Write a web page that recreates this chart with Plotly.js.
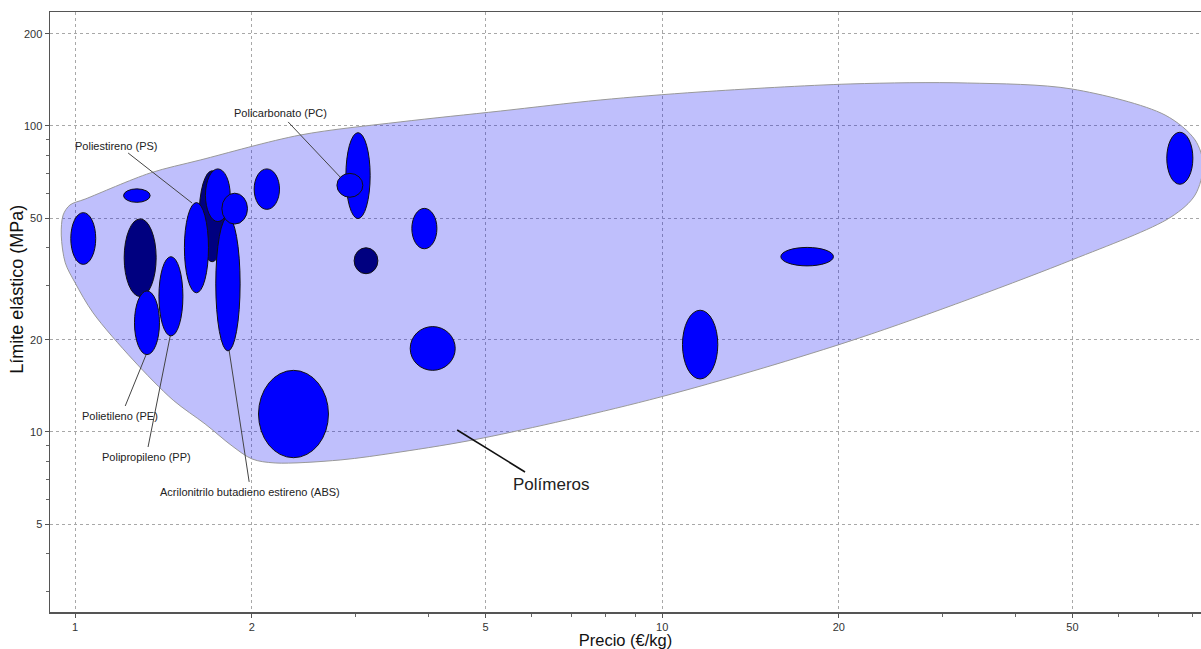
<!DOCTYPE html>
<html>
<head>
<meta charset="utf-8">
<script src="https://cdn.plot.ly/plotly-3.0.1.min.js"></script>
<style>html,body{margin:0;padding:0;background:#fff;}#chart{width:1201px;height:649px;}</style>
</head>
<body>
<div id="chart"></div>
<script>
// Material bubbles: price range (€/kg) and yield strength range (MPa)
const priceLo    = [1.212, 1.626, 2.987, 0.983, 1.209, 1.262, 1.389, 1.535, 1.667, 1.736, 1.778, 2.018, 2.892, 2.792, 3.746, 2.053, 3.722, 15.93, 10.83, 72.4];
const priceHi    = [1.374, 1.801, 3.279, 1.084, 1.342, 1.392, 1.526, 1.687, 1.837, 1.910, 1.966, 2.229, 3.181, 3.091, 4.133, 2.701, 4.441, 19.58, 12.44, 80.2];
const strengthLo = [27.7, 36.0, 32.9, 35.3, 56.3, 17.9, 20.6, 28.5, 48.7, 18.4, 47.8, 53.4, 49.8, 58.5, 39.7, 8.24, 15.9, 34.9, 14.9, 64.5];
const strengthHi = [49.7, 71.4, 40.0, 52.1, 62.3, 28.9, 37.4, 56.2, 72.4, 50.5, 60.3, 72.4, 95.1, 70.0, 53.8, 15.9, 22.1, 40.1, 25.0, 95.4];
const shade      = ['dark','dark','dark','light','light','light','light','light','light','light','light','light','light','light','light','light','light','light','light','light'];

// Polymer family envelope (price, strength)
const envPrice    = [0.947, 0.954, 0.980, 1.04, 1.342, 1.633, 2.417, 3.578, 5.30, 7.84, 11.6, 20.9, 33.1, 49.9, 71.9, 80.9, 83.5, 80.9, 73.6, 49.9, 21.7, 9.92, 4.96, 3.578, 2.828, 2.191, 2.002, 1.851, 1.665, 1.469, 1.255, 1.073, 1.0, 0.962, 0.947];
const envStrength = [44.0, 51.2, 55.2, 57.7, 70.2, 77.4, 93.4, 103.1, 111.9, 121.6, 129.2, 137.2, 138.2, 132.1, 108.6, 90.0, 74.6, 59.5, 50.4, 36.5, 20.3, 13.0, 9.56, 8.60, 8.10, 7.92, 8.16, 9.00, 10.62, 12.7, 17.2, 24.5, 30.7, 35.7, 44.0];

// Labels and leader lines
const labelText     = ['Poliestireno (PS)', 'Policarbonato (PC)', 'Polietileno (PE)', 'Polipropileno (PP)', 'Acrilonitrilo butadieno estireno (ABS)', 'Polímeros'];
const labelPrice    = [1.175, 2.235, 1.193, 1.321, 1.987, 6.47];
const labelStrength = [86.0, 110.3, 11.28, 8.286, 6.37, 6.71];
const leadFromPrice    = [1.231, 2.306, 1.217, 1.331, 1.979, 5.84];
const leadFromStrength = [81.6, 103.1, 12.16, 8.93, 6.87, 7.40];
const leadToPrice      = [1.582, 2.828, 1.321, 1.452, 1.829, 4.475];
const leadToStrength   = [56.0, 68.1, 17.9, 20.6, 18.5, 10.15];

const xTicks = [1, 2, 5, 10, 20, 50];
const yTicks = [5, 10, 20, 50, 100, 200];

const FONT = 'Liberation Sans, Arial, sans-serif';
const shadeColor = {dark: '#000080', light: '#0000ff'};

const shapes = [];
for (let i = 0; i < labelText.length; i++) {
  shapes.push({type: 'line', xref: 'x', yref: 'y', layer: 'above',
    x0: leadFromPrice[i], y0: leadFromStrength[i], x1: leadToPrice[i], y1: leadToStrength[i],
    line: {color: i === labelText.length - 1 ? '#111' : '#444', width: i === labelText.length - 1 ? 1.6 : 1}});
}
for (let i = 0; i < priceLo.length; i++) {
  shapes.push({type: 'circle', xref: 'x', yref: 'y', layer: 'above',
    x0: priceLo[i], x1: priceHi[i], y0: strengthLo[i], y1: strengthHi[i],
    fillcolor: shadeColor[shade[i]], line: {color: '#111', width: 1}});
}

const annotations = labelText.map((t, i) => ({
  text: t, xref: 'x', yref: 'y', x: Math.log10(labelPrice[i]), y: Math.log10(labelStrength[i]),
  showarrow: false, xanchor: 'center', yanchor: 'middle',
  font: {family: FONT, size: i === labelText.length - 1 ? 17 : 11, color: '#222'}
}));
// y-axis title placed as an annotation to match the reference position
annotations.push({
  text: 'Límite elástico (MPa)', xref: 'paper', yref: 'paper', x: 0, y: 0.537,
  xshift: -33, textangle: -90, showarrow: false, xanchor: 'center', yanchor: 'middle',
  font: {family: FONT, size: 18, color: '#111'}
});

const traces = [{
  type: 'scatter', mode: 'lines', x: envPrice, y: envStrength,
  fill: 'toself', fillcolor: 'rgba(0,0,245,0.25)',
  line: {color: '#999', width: 1, shape: 'spline', smoothing: 0.9},
  hoverinfo: 'skip', showlegend: false
}];

const axisCommon = {
  type: 'log', showgrid: true, gridcolor: '#a8a8a8', griddash: 'dot', gridwidth: 1,
  zeroline: false, showline: true, linecolor: '#555', linewidth: 1.5,
  ticks: 'outside', ticklen: 4, tickcolor: '#555',
  tickfont: {family: FONT, size: 11, color: '#333'},
  minor: {ticks: 'outside', ticklen: 3, tickcolor: '#666', dtick: 'D1', showgrid: false}
};

const layout = {
  width: 1201, height: 649,
  margin: {l: 50, r: 0, t: 12, b: 37},
  paper_bgcolor: '#fff', plot_bgcolor: '#fff',
  showlegend: false,
  xaxis: Object.assign({}, axisCommon, {
    range: [Math.log10(0.906), Math.log10(82.8)],
    tickmode: 'array', tickvals: xTicks, ticktext: xTicks.map(String),
    mirror: true,
    title: {text: 'Precio (€/kg)', font: {family: FONT, size: 16.5, color: '#111'}, standoff: 4}
  }),
  yaxis: Object.assign({}, axisCommon, {
    range: [Math.log10(2.58), Math.log10(235.8)],
    tickmode: 'array', tickvals: yTicks, ticktext: yTicks.map(String)
  }),
  shapes: shapes,
  annotations: annotations
};

Plotly.newPlot('chart', traces, layout, {displayModeBar: false, staticPlot: true});
</script>
</body>
</html>
